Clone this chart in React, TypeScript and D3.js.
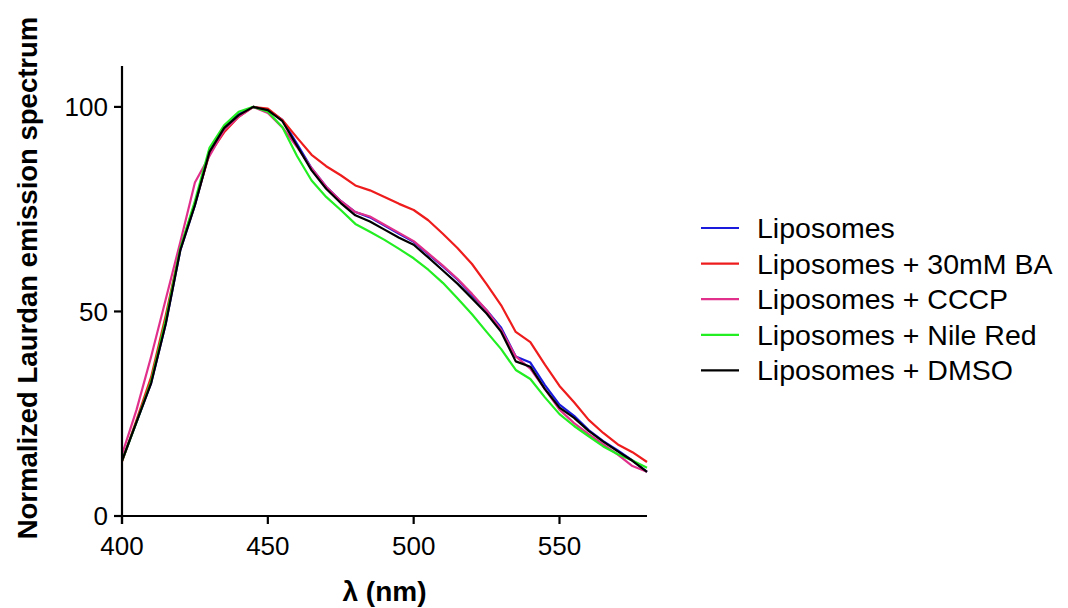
import React from "react";
import * as d3 from "d3";

const wavelengths = [400,405,410,415,420,425,430,435,440,445,450,455,460,465,470,475,480,485,490,495,500,505,510,515,520,525,530,535,540,545,550,555,560,565,570,575,580];

const liposomes = [13.5,23,32.5,47,65,76,89,95,98.2,100,99.3,96.8,91,85,80.5,77,74.3,73,71,69,67,64,61,57.8,54,50.3,46,39,37.5,32,27.2,24.5,21,18.3,16,13.6,10.8];
const ba30 = [13.3,23.5,34,49,65.5,76.5,88.5,93.8,97.6,100,99.6,96.8,92.5,88.3,85.5,83.3,80.8,79.6,78,76.3,74.8,72.3,69,65.5,61.6,56.7,51.5,45,42.5,37,31.8,27.8,23.5,20.3,17.5,15.6,13.2];
const cccp = [15,26,39,53,67,81.5,88,94.3,97.6,100,98.5,95,90.2,85,80.5,77,74.3,73.2,71.2,69.2,67.2,64.2,61.2,58,54.3,50.3,45.5,39,36,31,26,22.7,20,17.5,15,12.2,10.8];
const nileRed = [13.5,23,33,48,65.5,77,90,95.5,98.8,100,98.8,95,88,82,78,74.8,71.4,69.5,67.5,65.3,63,60.2,57,53.2,49.3,45,40.8,35.7,33.5,29,24.9,22,19.5,17,15.1,13.6,11.8];
const dmso = [13.5,23,32.5,47,65,76,89,94.8,98,100,99.2,96.5,90.5,84.5,80,76.5,73.5,72,70,68,66.3,63.2,60,56.8,53.2,49.5,45,37.8,36.5,31,26.5,24,20.8,18.2,15.8,13.5,10.8];

const seriesNames = ["Liposomes","Liposomes + 30mM BA","Liposomes + CCCP","Liposomes + Nile Red","Liposomes + DMSO"];
const seriesColors = ["#1a1adc","#ee1c1c","#e0308c","#22ee22","#000000"];
const seriesValues = [liposomes, ba30, cccp, nileRed, dmso];

const xTicks = [400,450,500,550];
const yTicks = [0,50,100];

const FONT = "'Liberation Sans', Arial, Helvetica, sans-serif";

export default function App() {
  const W = 1068, H = 608;
  const x = d3.scaleLinear().domain([400,580]).range([122,647]);
  const y = d3.scaleLinear().domain([0,110]).range([516,66]);
  const line = d3.line<number>()
    .x((_, i) => x(wavelengths[i]))
    .y(d => y(d));

  const legendY0 = 228, legendStep = 35.6;

  return (
    <svg width={W} height={H} style={{position:"absolute", left:0, top:0, background:"#fff"}} fontFamily={FONT}>
      <rect width={W} height={H} fill="#fff" />
      {seriesValues.map((vals, k) => (
        <path key={k} d={line(vals) || ""} fill="none" stroke={seriesColors[k]} strokeWidth={2.2} strokeLinejoin="round" />
      ))}
      <line x1={x(400)} x2={x(400)} y1={y(110)} y2={y(0)+8} stroke="#000" strokeWidth={2.2} />
      <line x1={x(400)-8} x2={x(580)} y1={y(0)} y2={y(0)} stroke="#000" strokeWidth={2.2} />
      {xTicks.map(t => (
        <g key={t}>
          <line x1={x(t)} x2={x(t)} y1={y(0)} y2={y(0)+8} stroke="#000" strokeWidth={2.2} />
          <text x={x(t)} y={y(0)+39} textAnchor="middle" fontSize={26} fill="#000">{t}</text>
        </g>
      ))}
      {yTicks.map(t => (
        <g key={t}>
          <line x1={x(400)-8} x2={x(400)} y1={y(t)} y2={y(t)} stroke="#000" strokeWidth={2.2} />
          <text x={x(400)-14} y={y(t)} dy="0.35em" textAnchor="end" fontSize={26} fill="#000">{t}</text>
        </g>
      ))}
      <text x={(x(400)+x(580))/2} y={601} textAnchor="middle" fontSize={28} fontWeight="bold" fill="#000">λ (nm)</text>
      <text transform={`translate(37,278) rotate(-90)`} textAnchor="middle" fontSize={27.5} fontWeight="bold" fill="#000">Normalized Laurdan emission spectrum</text>
      {seriesNames.map((name, k) => (
        <g key={name}>
          <line x1={701} x2={739} y1={legendY0 + k*legendStep} y2={legendY0 + k*legendStep} stroke={seriesColors[k]} strokeWidth={2.2} />
          <text x={757} y={legendY0 + k*legendStep} dy="0.35em" fontSize={28.5} fill="#000">{name}</text>
        </g>
      ))}
    </svg>
  );
}
